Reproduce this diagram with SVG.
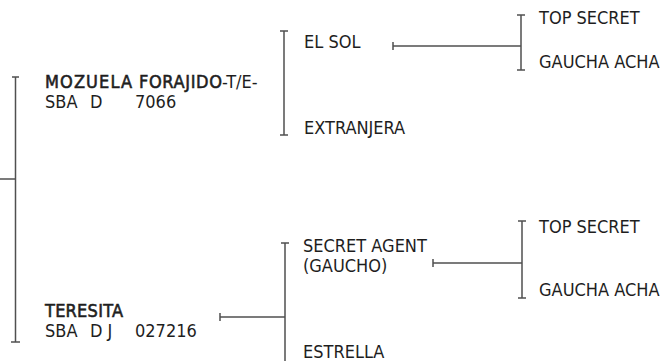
<svg xmlns="http://www.w3.org/2000/svg" width="669" height="361" viewBox="0 0 669 361">
<style>
text{font-family:"DejaVu Sans Condensed","Liberation Sans Narrow","Liberation Sans",sans-serif;font-stretch:condensed;font-size:18px;fill:#1e1e1e}
.b{stroke:#1e1e1e;stroke-width:0.55}
.ln{stroke:#505050;stroke-width:1.5;fill:none}
</style>
<rect width="669" height="361" fill="#fff"/>
<g id="connectors">
  <path class="ln" d="M15.5,77V342M12,77H19M11,342H20M0,179H15.5"/>
  <path class="ln" d="M284,31V135M280,31H288M280,135H288"/>
  <path class="ln" d="M285,243V361M281,243H289M220,317H285M220,313V321"/>
  <path class="ln" d="M521,15V70M517,15H525M517,70H525M393,46H521M393,42V50"/>
  <path class="ln" d="M522,221V298M518,221H526M518,298H526M433,263H522M433,259V267"/>
</g>
<g id="mozuela">
  <text x="45" y="88"><tspan class="b" textLength="87">MOZUELA</tspan><tspan class="b" x="139" textLength="83">FORAJIDO</tspan><tspan x="222">-T/E-</tspan></text>
  <text x="45" y="108">SBA<tspan x="90">D</tspan><tspan x="135">7066</tspan></text>
</g>
<g id="teresita">
  <text x="45" y="317" class="b" textLength="78">TERESITA</text>
  <text x="45" y="337">SBA<tspan x="90">D J</tspan><tspan x="135">027216</tspan></text>
</g>
<g id="elsol"><text x="304" y="48">EL SOL</text></g>
<g id="extranjera"><text x="304" y="134">EXTRANJERA</text></g>
<g id="secretagent">
  <text x="303" y="252">SECRET AGENT</text>
  <text x="303" y="272">(GAUCHO)</text>
</g>
<g id="estrella"><text x="303" y="358">ESTRELLA</text></g>
<g id="topsecret1"><text x="539" y="24">TOP SECRET</text></g>
<g id="gaucha1"><text x="539" y="68">GAUCHA ACHA</text></g>
<g id="topsecret2"><text x="539" y="233">TOP SECRET</text></g>
<g id="gaucha2"><text x="539" y="296">GAUCHA ACHA</text></g>
</svg>
